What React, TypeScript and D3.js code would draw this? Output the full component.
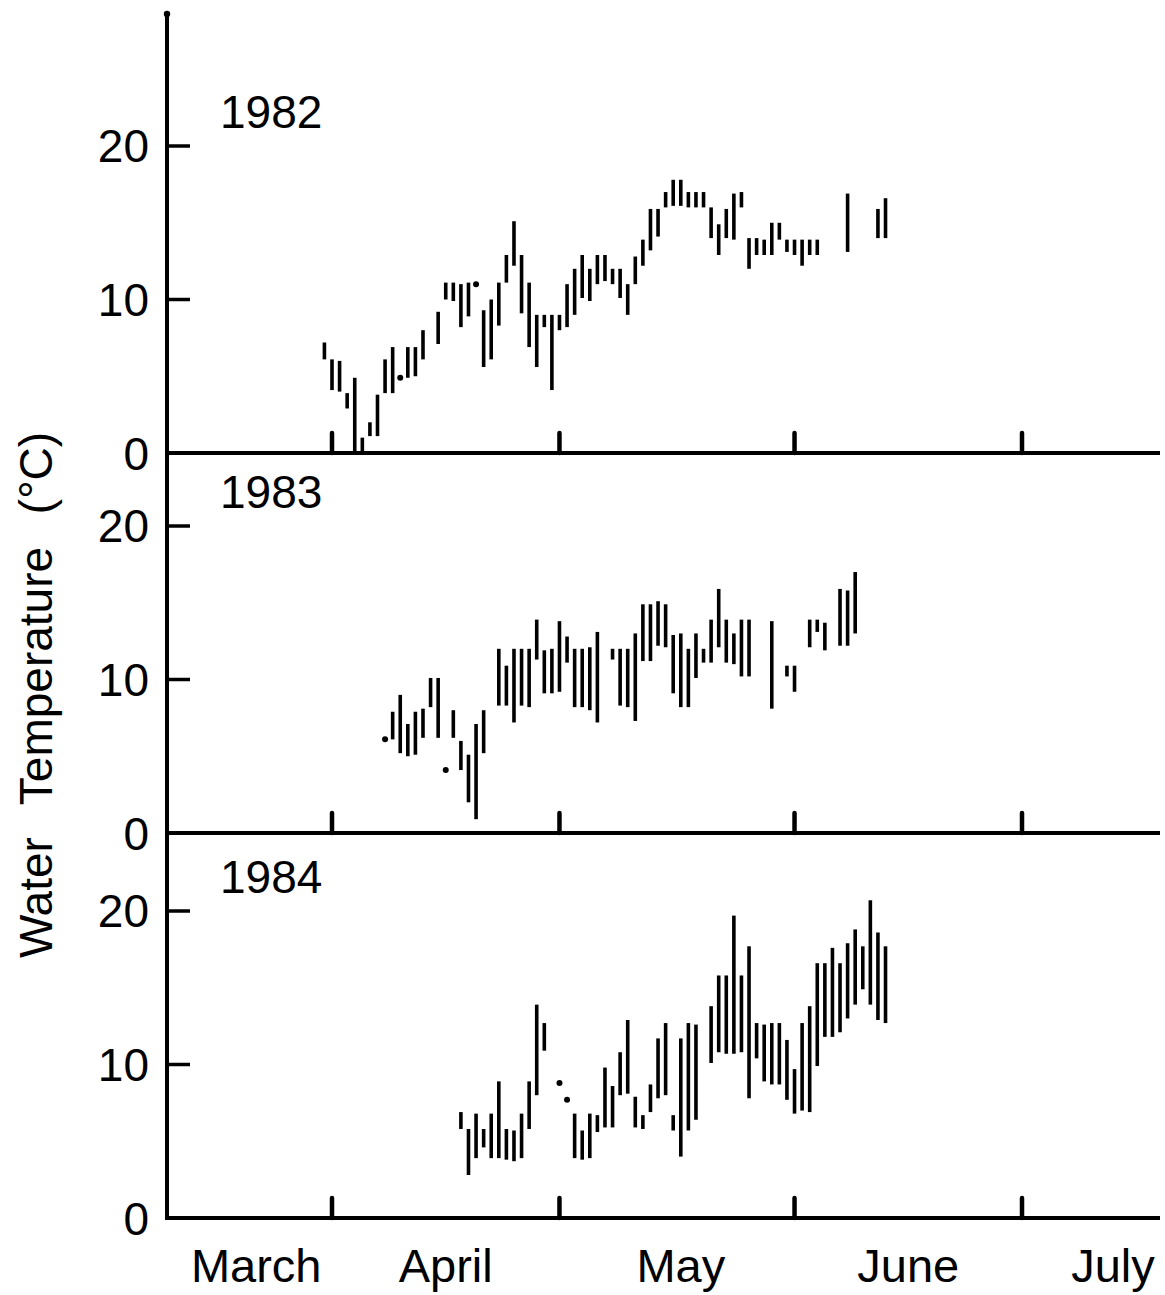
import { useMemo } from "react";
import * as d3 from "d3";

// [day (0 = 31 March), daily min °C, daily max °C]; min === max is a single reading
type Obs = [number, number, number];

const months = ["March", "April", "May", "June", "July"];
const monthLabelDays = [-10, 15, 46, 76, 103];
const monthEndDays = [0, 30, 61, 91];
const tempTicks = [0, 10, 20];

const temps1982: Obs[] = [
  [-1, 6.1, 7.2], [0, 4.1, 6.1], [1, 4.0, 6.0], [2, 2.9, 3.9], [3, 0, 4.9],
  [4, 0, 1.0], [5, 1.1, 2.0], [6, 1.1, 3.8], [7, 3.9, 6.1], [8, 3.9, 6.9],
  [9, 4.9, 4.9], [10, 4.9, 6.9], [11, 5.0, 6.9], [12, 6.1, 8.0], [14, 7.1, 9.2],
  [15, 10.0, 11.1], [16, 9.9, 11.1], [17, 8.2, 11.0], [18, 8.9, 11.1], [19, 11.0, 11.0],
  [20, 5.6, 9.3], [21, 6.1, 10.0], [22, 8.3, 11.1], [23, 11.1, 12.9], [24, 12.2, 15.1],
  [25, 9.1, 12.9], [26, 6.9, 11.1], [27, 5.6, 9.0], [28, 8.2, 9.0], [29, 4.1, 9.0],
  [30, 8.0, 9.0], [31, 8.2, 11.0], [32, 9.0, 12.0], [33, 10.1, 12.9], [34, 9.9, 12.0],
  [35, 11.0, 12.9], [36, 11.2, 12.9], [37, 11.0, 12.0], [38, 10.1, 12.0], [39, 9.0, 11.0],
  [40, 11.0, 12.8], [41, 12.2, 13.9], [42, 13.2, 15.9], [43, 14.1, 15.9], [44, 16.0, 17.0],
  [45, 16.1, 17.8], [46, 16.1, 17.8], [47, 16.0, 17.0], [48, 16.0, 17.0], [49, 16.0, 17.0],
  [50, 14.0, 16.0], [51, 12.9, 14.9], [52, 14.0, 15.9], [53, 13.9, 16.9], [54, 16.0, 17.0],
  [55, 12.0, 14.0], [56, 12.9, 14.0], [57, 12.9, 13.9], [58, 12.9, 15.0], [59, 13.9, 15.0],
  [60, 13.1, 13.9], [61, 12.9, 13.9], [62, 12.2, 13.9], [63, 12.9, 13.9], [64, 12.9, 13.9],
  [68, 13.1, 16.9], [72, 14.0, 15.9], [73, 14.0, 16.6],
];

const temps1983: Obs[] = [
  [7, 6.1, 6.1], [8, 6.1, 7.9], [9, 5.2, 9.0], [10, 5.0, 7.1], [11, 5.1, 7.9],
  [12, 6.2, 8.1], [13, 8.2, 10.1], [14, 6.2, 10.1], [15, 4.1, 4.1], [16, 6.2, 8.0],
  [17, 4.1, 6.0], [18, 2.0, 5.1], [19, 0.9, 7.1], [20, 5.2, 8.0], [22, 8.3, 12.0],
  [23, 8.3, 10.9], [24, 7.2, 12.0], [25, 8.3, 12.0], [26, 8.2, 12.0], [27, 11.3, 13.9],
  [28, 9.1, 11.9], [29, 9.1, 12.0], [30, 9.2, 13.8], [31, 11.1, 12.8], [32, 8.2, 12.0],
  [33, 8.2, 12.0], [34, 8.0, 12.1], [35, 7.2, 13.1], [37, 11.3, 12.0], [38, 8.3, 12.0],
  [39, 8.2, 12.0], [40, 7.3, 13.0], [41, 11.2, 14.9], [42, 11.2, 14.9], [43, 12.2, 15.1],
  [44, 12.1, 14.9], [45, 9.1, 12.9], [46, 8.2, 13.0], [47, 8.2, 12.0], [48, 10.1, 13.0],
  [49, 11.1, 12.0], [50, 11.1, 13.9], [51, 12.1, 15.9], [52, 11.1, 13.9], [53, 11.0, 13.0],
  [54, 10.2, 13.9], [55, 10.2, 13.9], [58, 8.1, 13.8], [60, 10.2, 10.9], [61, 9.2, 10.9],
  [63, 12.1, 13.9], [64, 13.1, 13.9], [65, 11.9, 13.7], [67, 12.2, 15.9], [68, 12.2, 15.8],
  [69, 13.0, 17.0],
];

const temps1984: Obs[] = [
  [17, 5.8, 6.9], [18, 2.8, 5.8], [19, 3.9, 6.8], [20, 4.6, 5.8], [21, 3.9, 6.8],
  [22, 3.9, 8.9], [23, 3.8, 5.8], [24, 3.7, 5.7], [25, 3.9, 6.8], [26, 5.8, 8.9],
  [27, 8.0, 13.9], [28, 10.9, 12.7], [30, 8.8, 8.8], [31, 7.7, 7.7], [32, 3.9, 6.8],
  [33, 3.8, 5.7], [34, 3.9, 6.8], [35, 5.6, 6.7], [36, 5.9, 9.8], [37, 5.9, 8.6],
  [38, 8.0, 10.8], [39, 8.1, 12.9], [40, 5.9, 7.9], [41, 5.8, 6.7], [42, 6.9, 8.7],
  [43, 7.8, 11.7], [44, 8.0, 12.7], [45, 5.7, 6.7], [46, 4.0, 11.7], [47, 5.7, 12.7],
  [48, 6.4, 12.6], [50, 10.1, 13.8], [51, 10.8, 15.8], [52, 10.7, 15.8], [53, 10.7, 19.7],
  [54, 10.8, 15.8], [55, 7.8, 17.7], [56, 10.4, 12.7], [57, 8.9, 12.6], [58, 8.7, 12.7],
  [59, 8.7, 12.7], [60, 7.7, 11.6], [61, 6.8, 9.7], [62, 7.0, 12.7], [63, 6.9, 13.8],
  [64, 9.9, 16.6], [65, 11.8, 16.6], [66, 11.8, 17.6], [67, 12.1, 16.6], [68, 13.0, 17.9],
  [69, 13.9, 18.8], [70, 14.9, 17.7], [71, 13.9, 20.7], [72, 12.9, 18.6], [73, 12.7, 17.7],
];

const years = ["1982", "1983", "1984"];
const series = [temps1982, temps1983, temps1984];

const WIDTH = 1165;
const HEIGHT = 1295;
const FONT = "'Liberation Sans', Arial, sans-serif";

export default function App() {
  const plot = { left: 167, right: 1160, top: 14 };
  // panel baselines (0 °C) from top to bottom
  const baselines = [453, 833, 1218];
  const pxPerDegree = 15.35;

  const xScale = useMemo(
    () => d3.scaleLinear().domain([0, 91]).range([332, 1022]),
    [],
  );

  const panels = useMemo(
    () =>
      years.map((year, i) => {
        const bottom = baselines[i];
        const yScale = d3
          .scaleLinear()
          .domain([0, 20])
          .range([bottom, bottom - 20 * pxPerDegree]);
        return { year, data: series[i], bottom, yScale };
      }),
    [],
  );

  return (
    <svg
      width={WIDTH}
      height={HEIGHT}
      viewBox={`0 0 ${WIDTH} ${HEIGHT}`}
      style={{ position: "absolute", left: 0, top: 0, background: "#fff" }}
      fontFamily={FONT}
    >
      <rect width={WIDTH} height={HEIGHT} fill="#fff" />

      {/* y axis */}
      <line
        x1={plot.left}
        y1={plot.top}
        x2={plot.left}
        y2={baselines[2] + 2}
        stroke="#000"
        strokeWidth={4}
      />
      <circle cx={plot.left} cy={plot.top} r={3.2} fill="#000" />

      <text
        transform={`translate(36, 695) rotate(-90)`}
        textAnchor="middle"
        dominantBaseline="central"
        fontSize={46}
        wordSpacing={20}
      >
        Water Temperature (°C)
      </text>

      {panels.map(({ year, data, bottom, yScale }) => (
        <g key={year}>
          {/* x axis */}
          <line
            x1={plot.left}
            y1={bottom}
            x2={plot.right}
            y2={bottom}
            stroke="#000"
            strokeWidth={4}
          />
          {monthEndDays.map((d) => (
            <line
              key={d}
              x1={xScale(d)}
              x2={xScale(d)}
              y1={bottom}
              y2={bottom - 20}
              stroke="#000"
              strokeWidth={4.5}
              strokeLinecap="round"
            />
          ))}

          {/* temperature ticks */}
          {tempTicks.map((t) => (
            <g key={t}>
              {t > 0 && (
                <line
                  x1={plot.left}
                  x2={plot.left + 23}
                  y1={yScale(t)}
                  y2={yScale(t)}
                  stroke="#000"
                  strokeWidth={3.5}
                />
              )}
              <text
                x={plot.left - 18}
                y={yScale(t)}
                dy={t === 0 ? 17 : 16}
                textAnchor="end"
                fontSize={46}
              >
                {t}
              </text>
            </g>
          ))}

          <text x={220} y={yScale(21.2)} fontSize={46}>
            {year}
          </text>

          {/* daily min-max ranges */}
          {data.map(([day, lo, hi]) =>
            lo === hi ? (
              <circle
                key={day}
                cx={xScale(day)}
                cy={yScale(lo)}
                r={3}
                fill="#000"
              />
            ) : (
              <line
                key={day}
                x1={xScale(day)}
                x2={xScale(day)}
                y1={yScale(lo)}
                y2={yScale(hi)}
                stroke="#000"
                strokeWidth={3.6}
              />
            ),
          )}
        </g>
      ))}

      {/* month labels */}
      {months.map((m, i) => (
        <text
          key={m}
          x={xScale(monthLabelDays[i])}
          y={1282}
          textAnchor="middle"
          fontSize={47}
        >
          {m}
        </text>
      ))}
    </svg>
  );
}
